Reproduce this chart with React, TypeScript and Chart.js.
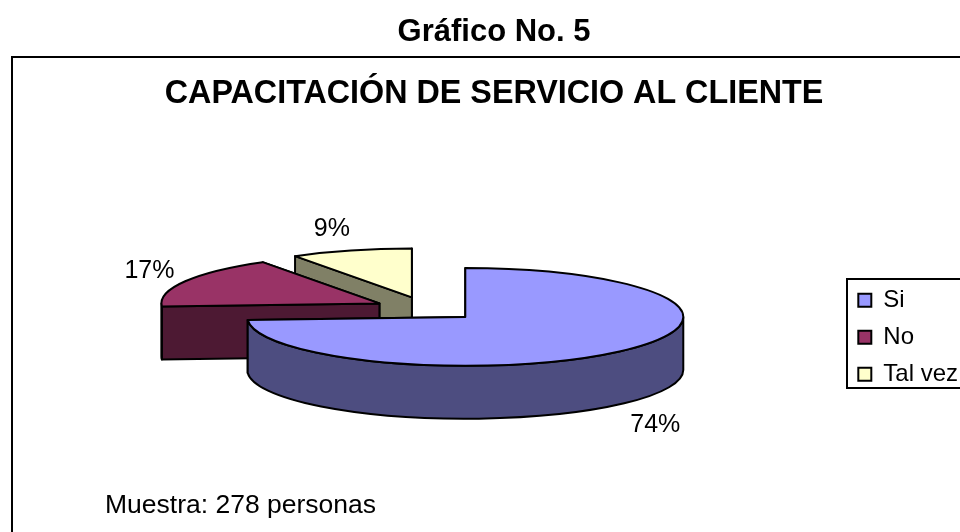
import React, { useEffect, useRef } from "react";
import { Chart, registerables } from "chart.js";

Chart.register(...registerables);

const categories = ["Si", "No", "Tal vez"];
const values = [74, 17, 9];
const topColors = ["#9999ff", "#993366", "#ffffcc"];
const sideColors = ["#4d4d80", "#4d1933", "#808066"];
const pageTitle = "Gráfico No. 5";
const chartTitle = "CAPACITACIÓN DE SERVICIO AL CLIENTE";
const note = "Muestra: 278 personas";

const FONT = '"Liberation Sans", Arial, sans-serif';
const squash = 0.224;
const explode = 53;
const depth = 53;
const shiftX = -6;
const shiftY = -78.5;
const labelOffsets = [
  [190, 108],
  [-230, -32],
  [-80, -68],
];

const pie3d = {
  id: "pie3d",
  beforeDraw(chart: any) {
    const ctx = chart.ctx;
    ctx.save();
    ctx.strokeStyle = "#000";
    ctx.lineWidth = 2;
    ctx.beginPath();
    ctx.moveTo(12, chart.height);
    ctx.lineTo(12, 57);
    ctx.lineTo(chart.width, 57);
    ctx.stroke();
    ctx.restore();
  },
  beforeDatasetsDraw(chart: any) {
    const ctx = chart.ctx;
    const arcs = chart.getDatasetMeta(0).data;
    for (let i = arcs.length - 1; i >= 0; i--) {
      const a = arcs[i];
      const r = a.outerRadius;
      const mid = (a.startAngle + a.endAngle) / 2;
      const cx = a.x + shiftX + Math.cos(mid) * explode;
      const cy = a.y + shiftY + Math.sin(mid) * explode * squash;
      const px = (t: number) => cx + Math.cos(t) * r;
      const py = (t: number) => cy + Math.sin(t) * r * squash;

      ctx.save();
      ctx.strokeStyle = "#000";
      ctx.lineWidth = 2;
      ctx.lineJoin = "round";
      ctx.fillStyle = sideColors[i];

      for (const t of [a.endAngle, a.startAngle]) {
        ctx.beginPath();
        ctx.moveTo(cx, cy);
        ctx.lineTo(px(t), py(t));
        ctx.lineTo(px(t), py(t) + depth);
        ctx.lineTo(cx, cy + depth);
        ctx.closePath();
        ctx.fill();
        ctx.stroke();
      }

      const from = Math.max(a.startAngle, 0);
      const to = Math.min(a.endAngle, Math.PI);
      if (to > from) {
        ctx.beginPath();
        ctx.ellipse(cx, cy, r, r * squash, 0, from, to);
        ctx.ellipse(cx, cy + depth, r, r * squash, 0, to, from, true);
        ctx.closePath();
        ctx.fill();
        ctx.stroke();
      }
      ctx.restore();

      ctx.save();
      ctx.translate(cx, cy);
      ctx.scale(1, squash);
      ctx.translate(-a.x, -a.y);
      a.draw(ctx);
      ctx.restore();

      ctx.save();
      ctx.strokeStyle = "#000";
      ctx.lineWidth = 2;
      ctx.lineJoin = "round";
      ctx.beginPath();
      ctx.moveTo(cx, cy);
      ctx.ellipse(cx, cy, r, r * squash, 0, a.startAngle, a.endAngle);
      ctx.closePath();
      ctx.stroke();
      ctx.restore();
    }
    return false;
  },
  afterDraw(chart: any) {
    const ctx = chart.ctx;
    const arcs = chart.getDatasetMeta(0).data;
    ctx.save();
    ctx.strokeStyle = "#000";
    ctx.lineWidth = 2;
    ctx.strokeRect(847, 279, 200, 109);
    ctx.fillStyle = "#000";
    ctx.textBaseline = "middle";
    ctx.textAlign = "center";
    ctx.font = `25px ${FONT}`;
    arcs.forEach((a: any, i: number) => {
      const mid = (a.startAngle + a.endAngle) / 2;
      const cx = a.x + shiftX + Math.cos(mid) * explode;
      const cy = a.y + shiftY + Math.sin(mid) * explode * squash;
      ctx.fillText(`${values[i]}%`, cx + labelOffsets[i][0], cy + labelOffsets[i][1]);
    });
    ctx.textAlign = "left";
    ctx.font = `26.5px ${FONT}`;
    ctx.fillText(note, 105, 506);
    ctx.restore();
  },
};

export default function App() {
  const ref = useRef<HTMLCanvasElement>(null);
  useEffect(() => {
    const chart = new Chart(ref.current!, {
      type: "pie",
      plugins: [pie3d],
      data: {
        labels: categories,
        datasets: [
          {
            data: values,
            backgroundColor: topColors,
            borderWidth: 0,
            radius: 218,
          } as any,
        ],
      },
      options: {
        responsive: false,
        animation: false,
        layout: { padding: { top: 13.4, left: 20, right: 32, bottom: 0 } },
        plugins: {
          tooltip: { enabled: false },
          title: {
            display: true,
            text: pageTitle,
            color: "#000",
            font: { family: FONT, size: 31, weight: "bold", lineHeight: 1.2 },
            padding: { top: 0, bottom: 24.2 },
          },
          subtitle: {
            display: true,
            text: chartTitle,
            color: "#000",
            font: { family: FONT, size: 32.3, weight: "bold", lineHeight: 1.2 },
            padding: { top: 0, bottom: 0 },
          },
          legend: {
            position: "right",
            labels: {
              color: "#000",
              font: { family: FONT, size: 24 },
              boxWidth: 13,
              boxHeight: 13,
              padding: 13,
              generateLabels(c: any) {
                const base = (Chart as any).overrides.doughnut.plugins.legend.labels.generateLabels(c);
                return base.map((l: any) => ({ ...l, lineWidth: 2, strokeStyle: "#000" }));
              },
            },
          },
        },
      },
    } as any);
    return () => chart.destroy();
  }, []);
  return (
    <div style={{ position: "fixed", left: 0, top: 0, width: 960, height: 532, overflow: "hidden", background: "#fff" }}>
      <canvas ref={ref} width={1000} height={661} style={{ display: "block" }} />
    </div>
  );
}
